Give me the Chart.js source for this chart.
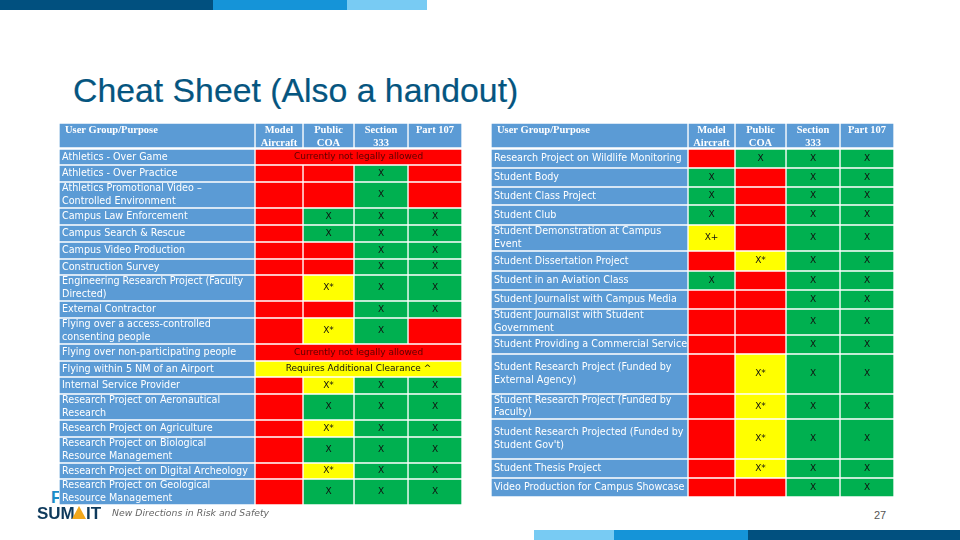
<!DOCTYPE html>
<html>
<head>
<meta charset="utf-8">
<title>Cheat Sheet</title>
<script src="https://cdn.jsdelivr.net/npm/chart.js@4"></script>
<style>
  html, body { margin: 0; padding: 0; background: #fff; }
  #slide { position: relative; width: 960px; height: 540px; overflow: hidden; background: #fff; }
  #slide div, #slide canvas { position: absolute; }
  .bar { height: 10px; }
  #title { left: 73px; top: 71px; font: 33.8px "Liberation Sans", sans-serif; color: #05557f; white-space: nowrap; -webkit-text-stroke: 0.2px #05557f; }
  #logoF { left: 51px; top: 488px; font: bold 17px "Liberation Sans", sans-serif; color: #1a8cc8; }
  #logoA { left: 37px; top: 504px; font: bold 17px "Liberation Sans", sans-serif; color: #0e3a5c; }
  #logoB { left: 86px; top: 504px; font: bold 17px "Liberation Sans", sans-serif; color: #0e3a5c; }
  #peak { left: 72px; top: 506px; width: 0; height: 0; border-left: 7px solid transparent; border-right: 7px solid transparent; border-bottom: 13px solid #f2a71b; }
  #tagline { left: 112px; top: 507px; font: italic 9.3px "DejaVu Sans", sans-serif; color: #666; white-space: nowrap; }
  #page { left: 874px; top: 509px; font: 11px "Liberation Sans", sans-serif; color: #555; }
</style>
</head>
<body>
<div id="slide">
  <div class="bar" style="left:0;top:0;width:213px;background:#01507f"></div>
  <div class="bar" style="left:213px;top:0;width:134px;background:#1594d8"></div>
  <div class="bar" style="left:347px;top:0;width:80px;background:#78cbf3"></div>
  <div id="title">Cheat Sheet (Also a handout)</div>
  <div id="logoF">F</div>
  <canvas id="leftTable" width="403" height="382" style="left:59px;top:123px"></canvas>
  <canvas id="rightTable" width="403" height="374" style="left:491px;top:123px"></canvas>
  <div id="logoA">SUM</div>
  <div id="peak"></div>
  <div id="logoB">IT</div>
  <div id="tagline">New Directions in Risk and Safety</div>
  <div id="page">27</div>
  <div class="bar" style="left:534px;top:530px;width:80px;background:#78cbf3"></div>
  <div class="bar" style="left:614px;top:530px;width:134px;background:#1594d8"></div>
  <div class="bar" style="left:748px;top:530px;width:212px;background:#01507f"></div>
</div>
<script>
// table data, '' means not allowed
var headers = [['User Group/Purpose'], ['Model', 'Aircraft'], ['Public', 'COA'], ['Section', '333'], ['Part 107']];

var leftGroups = [
  ['Athletics - Over Game'],
  ['Athletics - Over Practice'],
  ['Athletics Promotional Video –', 'Controlled Environment'],
  ['Campus Law Enforcement'],
  ['Campus Search & Rescue'],
  ['Campus Video Production'],
  ['Construction Survey'],
  ['Engineering Research Project (Faculty', 'Directed)'],
  ['External Contractor'],
  ['Flying over a access-controlled', 'consenting people'],
  ['Flying over non-participating people'],
  ['Flying within 5 NM of an Airport'],
  ['Internal Service Provider'],
  ['Research Project on Aeronautical', 'Research'],
  ['Research Project on Agriculture'],
  ['Research Project on Biological', 'Resource Management'],
  ['Research Project on Digital Archeology'],
  ['Research Project on Geological', 'Resource Management']
];
var leftModelAircraft = ['', '', '', '', '', '', '', '', '', '', '', '', '', '', '', '', '', ''];
var leftPublicCoa = ['', '', '', 'X', 'X', '', '', 'X*', '', 'X*', '', '', 'X*', 'X', 'X*', 'X', 'X*', 'X'];
var leftSection333 = ['', 'X', 'X', 'X', 'X', 'X', 'X', 'X', 'X', 'X', '', '', 'X', 'X', 'X', 'X', 'X', 'X'];
var leftPart107 = ['', '', '', 'X', 'X', 'X', 'X', 'X', 'X', '', '', '', 'X', 'X', 'X', 'X', 'X', 'X'];
var leftNotes = ['Currently not legally allowed', '', '', '', '', '', '', '', '', '',
  'Currently not legally allowed', 'Requires Additional Clearance ^', '', '', '', '', '', ''];

var rightGroups = [
  ['Research Project on Wildlife Monitoring'],
  ['Student Body'],
  ['Student Class Project'],
  ['Student Club'],
  ['Student Demonstration at Campus', 'Event'],
  ['Student Dissertation Project'],
  ['Student in an Aviation Class'],
  ['Student Journalist with Campus Media'],
  ['Student Journalist with Student', 'Government'],
  ['Student Providing a Commercial Service'],
  ['Student Research Project (Funded by', 'External Agency)'],
  ['Student Research Project (Funded by', 'Faculty)'],
  ['Student Research Projected (Funded by', 'Student Gov\'t)'],
  ['Student Thesis Project'],
  ['Video Production for Campus Showcase']
];
var rightModelAircraft = ['', 'X', 'X', 'X', 'X+', '', 'X', '', '', '', '', '', '', '', ''];
var rightPublicCoa = ['X', '', '', '', '', 'X*', '', '', '', '', 'X*', 'X*', 'X*', 'X*', ''];
var rightSection333 = ['X', 'X', 'X', 'X', 'X', 'X', 'X', 'X', 'X', 'X', 'X', 'X', 'X', 'X', 'X'];
var rightPart107 = ['X', 'X', 'X', 'X', 'X', 'X', 'X', 'X', 'X', 'X', 'X', 'X', 'X', 'X', 'X'];
var rightNotes = ['', '', '', '', '', '', '', '', '', '', '', '', '', '', ''];

// layout of the two tables, in table units (1 unit = 1 px of canvas)
var headerHeight = 24;
var headerGap = 2;
var leftRowSpans = [16, 17, 26, 17, 17, 17, 16, 26, 17, 26, 17, 16, 17, 26, 17, 26, 16, 26];
var rightRowSpans = [19, 19, 18, 20, 26, 20, 19, 19, 26, 19, 40, 25, 40, 19, 19];
var leftColWidths = [196, 48, 51, 54, 54];
var rightColWidths = [197, 47, 51, 54, 54];

var BLUE = '#5b9bd5', RED = '#ff0000', GREEN = '#00b050', YELLOW = '#ffff00';

function markColor(mark) {
  if (mark === 'X') return GREEN;
  if (mark === '') return RED;
  return YELLOW;
}

// draws the text of each cell at the centre of its bar
var cellTextPlugin = {
  id: 'cellText',
  afterDatasetsDraw: function (chart) {
    var ctx = chart.ctx;
    chart.data.datasets.forEach(function (ds, d) {
      var meta = chart.getDatasetMeta(d);
      ds.data.forEach(function (cell, i) {
        var bar = meta.data[i];
        var props = bar.getProps(['x', 'y', 'base', 'width']);
        var top = Math.min(props.y, props.base), bottom = Math.max(props.y, props.base);
        ctx.save();
        if (cell.header) {
          // header text is cut off by the cell, as in the handout
          ctx.beginPath();
          ctx.rect(props.x - props.width / 2, top, props.width, bottom - top - 1);
          ctx.clip();
          ctx.fillStyle = '#fff';
          ctx.font = 'bold 10.5px "Liberation Serif", serif';
          ctx.textBaseline = 'middle';
          ctx.textAlign = cell.first ? 'left' : 'center';
          var tx = cell.first ? props.x - props.width / 2 + 6 : props.x;
          cell.header.forEach(function (line, n) {
            ctx.fillText(line, tx, top + 7 + n * 13);
          });
        } else if (cell.text) {
          ctx.fillStyle = cell.text.length > 2 && cell.fill === RED ? '#5a0000' : '#111';
          ctx.font = '9px "DejaVu Sans", sans-serif';
          ctx.textBaseline = 'middle';
          ctx.textAlign = 'center';
          ctx.fillText(cell.text, props.x, (top + bottom) / 2);
        }
        ctx.restore();
      });
    });
  }
};

function buildTable(canvasId, groups, columns, notes, rowSpans, colWidths) {
  // row edges and centres from the spans
  var edges = [];
  var pos = headerHeight + headerGap;
  rowSpans.forEach(function (span) {
    edges.push([pos, pos + span]);
    pos += span;
  });
  var total = pos;
  var centers = edges.map(function (e) { return (e[0] + e[1]) / 2; });

  var xLeft = 0;
  var datasets = [];
  colWidths.forEach(function (w, c) {
    var cx = xLeft + w / 2;
    var cells = [{ x: cx, y: [0, headerHeight + 1], header: headers[c], first: c === 0, fill: BLUE }];
    edges.forEach(function (edge, r) {
      if (c === 0) {
        cells.push({ x: cx, y: edge, fill: BLUE });
      } else if (!notes[r]) {
        var mark = columns[c - 1][r];
        cells.push({ x: cx, y: edge, text: mark, fill: markColor(mark) });
      }
    });
    datasets.push({ data: cells, barThickness: w });
    xLeft += w;
  });

  // merged cells across the four permission columns
  var mergedWidth = xLeft - colWidths[0];
  var merged = [];
  edges.forEach(function (edge, r) {
    if (notes[r]) {
      merged.push({
        x: colWidths[0] + mergedWidth / 2, y: edge, text: notes[r],
        fill: notes[r].indexOf('Requires') === 0 ? YELLOW : RED
      });
    }
  });
  if (merged.length) datasets.push({ data: merged, barThickness: mergedWidth });

  new Chart(document.getElementById(canvasId), {
    type: 'bar',
    data: { datasets: datasets },
    options: {
      responsive: false,
      animation: false,
      layout: { padding: 0 },
      elements: {
        bar: {
          borderWidth: 1,
          borderColor: '#fff',
          borderSkipped: false,
          backgroundColor: function (c) { return c.raw ? c.raw.fill : BLUE; }
        }
      },
      plugins: { legend: { display: false }, title: { display: false }, tooltip: { enabled: false } },
      scales: {
        x: {
          type: 'linear', display: false, stacked: true, offset: false,
          min: 0, max: xLeft
        },
        y: {
          type: 'linear', reverse: true, min: 0, max: total,
          grid: { display: false },
          border: { display: false },
          afterFit: function (s) {
            s.width = 0;
            s.paddingTop = 0;
            s.paddingBottom = 0;
          },
          afterBuildTicks: function (s) {
            s.ticks = centers.map(function (v) { return { value: v }; });
          },
          ticks: {
            mirror: true, z: 1, padding: 3, autoSkip: false, color: '#fff',
            font: { family: '"DejaVu Sans", sans-serif', size: 9.6, lineHeight: 1.35 },
            callback: function (v, i) { return groups[i]; }
          }
        }
      }
    },
    plugins: [cellTextPlugin]
  });
}

buildTable('leftTable', leftGroups, [leftModelAircraft, leftPublicCoa, leftSection333, leftPart107], leftNotes, leftRowSpans, leftColWidths);
buildTable('rightTable', rightGroups, [rightModelAircraft, rightPublicCoa, rightSection333, rightPart107], rightNotes, rightRowSpans, rightColWidths);
</script>
</body>
</html>
